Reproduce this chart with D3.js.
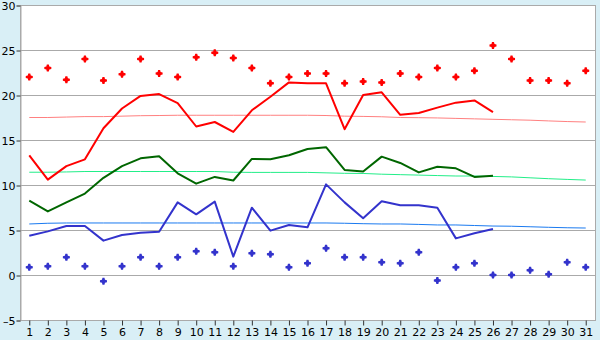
<!DOCTYPE html>
<html>
<head>
<meta charset="utf-8">
<script src="https://cdn.jsdelivr.net/npm/d3@7"></script>
<style>
  body { margin: 0; background: #d9eff6; }
  svg { display: block; }
  text { font-family: "DejaVu Sans", Verdana, sans-serif; fill: #000; }
</style>
</head>
<body>
<svg id="chart"></svg>
<script>
// days of the month
let days = d3.range(1, 32)

// daily values
let maxTemp = [13.3, 10.6, 12.1, 12.85, 16.3, 18.5, 19.9, 20.1, 19.1, 16.5, 17.0, 15.9, 18.3, 19.8, 21.4, 21.3, 21.3, 16.2, 20.0, 20.3, 17.8, 18.0, 18.6, 19.15, 19.4, 18.1]
let meanTemp = [8.26, 7.07, 8.07, 9.05, 10.8, 12.1, 12.96, 13.2, 11.3, 10.15, 10.9, 10.5, 12.9, 12.85, 13.3, 14.0, 14.2, 11.67, 11.5, 13.15, 12.45, 11.4, 12.03, 11.85, 10.9, 11.03]
let minTemp = [4.37, 4.85, 5.44, 5.44, 3.82, 4.44, 4.7, 4.8, 8.07, 6.74, 8.15, 2.04, 7.48, 4.93, 5.56, 5.3, 10.07, 8.07, 6.3, 8.2, 7.74, 7.74, 7.48, 4.07, 4.63, 5.11]

// records
let recordHigh = [22.0, 23.0, 21.7, 24.0, 21.6, 22.3, 24.0, 22.4, 22.0, 24.2, 24.7, 24.1, 23.0, 21.3, 22.0, 22.4, 22.4, 21.3, 21.5, 21.4, 22.4, 22.0, 23.0, 22.0, 22.7, 25.5, 24.0, 21.6, 21.6, 21.3, 22.7]
let recordLow = [0.85, 0.96, 1.96, 0.96, -0.7, 0.96, 1.96, 0.96, 1.96, 2.63, 2.52, 0.96, 2.41, 2.3, 0.85, 1.3, 2.96, 1.96, 1.96, 1.41, 1.3, 2.52, -0.6, 0.85, 1.3, 0, 0, 0.52, 0.07, 1.41, 0.85]

// normals
let normalMax = [17.5, 17.5, 17.55, 17.6, 17.6, 17.65, 17.7, 17.72, 17.75, 17.75, 17.75, 17.75, 17.75, 17.75, 17.75, 17.75, 17.72, 17.65, 17.62, 17.58, 17.5, 17.48, 17.45, 17.4, 17.35, 17.3, 17.25, 17.2, 17.12, 17.05, 17.0]
let normalMean = [11.42, 11.42, 11.45, 11.5, 11.5, 11.5, 11.5, 11.5, 11.5, 11.5, 11.5, 11.42, 11.4, 11.4, 11.4, 11.4, 11.35, 11.3, 11.28, 11.2, 11.15, 11.1, 11.05, 11.0, 11.0, 10.95, 10.9, 10.8, 10.7, 10.62, 10.55]
let normalMin = [5.67, 5.75, 5.78, 5.78, 5.78, 5.78, 5.78, 5.78, 5.78, 5.78, 5.78, 5.78, 5.78, 5.78, 5.78, 5.78, 5.78, 5.75, 5.7, 5.67, 5.67, 5.62, 5.56, 5.56, 5.5, 5.44, 5.42, 5.36, 5.3, 5.25, 5.22]

let yTicks = [-5, 0, 5, 10, 15, 20, 25, 30]

let opts = {
    width: 600,
    height: 340,
    left: 20,
    right: 595,
    top: 5,
    bottom: 320
}

let svg = d3.select('#chart')
    .attr('width', opts.width)
    .attr('height', opts.height)

let x = d3.scaleBand()
    .domain(days)
    .range([opts.left, opts.right])
    .padding(0)

let y = d3.scaleLinear()
    .domain([-5, 30])
    .range([opts.bottom, opts.top])

let cx = d => x(d) + x.bandwidth() / 2

// plot background
svg.append('rect')
    .attr('x', opts.left + 0.5)
    .attr('y', opts.top + 0.5)
    .attr('width', opts.right - opts.left)
    .attr('height', opts.bottom - opts.top)
    .attr('fill', '#fff')
    .attr('stroke', '#aaa')
    .attr('stroke-width', 1)

// grid
svg.append('g')
    .selectAll('line')
    .data(yTicks)
    .join('line')
    .attr('x1', opts.left)
    .attr('x2', opts.right)
    .attr('y1', d => Math.round(y(d)) + 0.5)
    .attr('y2', d => Math.round(y(d)) + 0.5)
    .attr('stroke', '#aaa')

// axes
let yAxis = svg.append('g')
    .attr('transform', `translate(${opts.left + 0.5},0.5)`)
    .call(d3.axisLeft(y).tickValues(yTicks).tickSize(4).tickPadding(1).tickFormat(d => d < 0 ? '\u2013' + Math.abs(d) : d))
yAxis.select('.domain').attr('stroke', '#aaa')
yAxis.selectAll('.tick line').attr('stroke', '#333')
yAxis.selectAll('text').style('font-size', '11px').style('font-family', '"DejaVu Sans", sans-serif')

let xAxis = svg.append('g')
    .attr('transform', `translate(0.5,${opts.bottom + 0.5})`)
    .call(d3.axisBottom(x).tickSize(5).tickPadding(3))
xAxis.select('.domain').remove()
xAxis.selectAll('.tick line').attr('stroke', '#333')
xAxis.selectAll('text').style('font-size', '11px').style('font-family', '"DejaVu Sans", sans-serif')

// series lines
function drawLine(values, color, width) {
    let line = d3.line()
        .x((d, i) => cx(days[i]))
        .y(d => y(d))
    svg.append('path')
        .datum(values)
        .attr('d', line)
        .attr('fill', 'none')
        .attr('stroke', color)
        .attr('stroke-width', width)
        .attr('stroke-linejoin', 'round')
}

drawLine(normalMax, '#ff8080', 1)
drawLine(normalMean, '#22ee88', 1)
drawLine(normalMin, '#1a7af0', 1)
drawLine(maxTemp, '#ff0000', 2)
drawLine(meanTemp, '#006600', 2)
drawLine(minTemp, '#3333cc', 2)

// record markers: small plus-diamond
let marker = 'M-1,-3.5L1,-3.5L1.5,-1.5L3.5,-1L3.5,1L1.5,1.5L1,3.5L-1,3.5L-1.5,1.5L-3.5,1L-3.5,-1L-1.5,-1.5Z'

function drawMarks(values, color) {
    svg.append('g')
        .selectAll('path')
        .data(values)
        .join('path')
        .attr('d', marker)
        .attr('transform', (d, i) => `translate(${cx(days[i])},${y(d)})`)
        .attr('fill', color)
}

drawMarks(recordHigh, '#ff0000')
drawMarks(recordLow, '#3333cc')
</script>
</body>
</html>
